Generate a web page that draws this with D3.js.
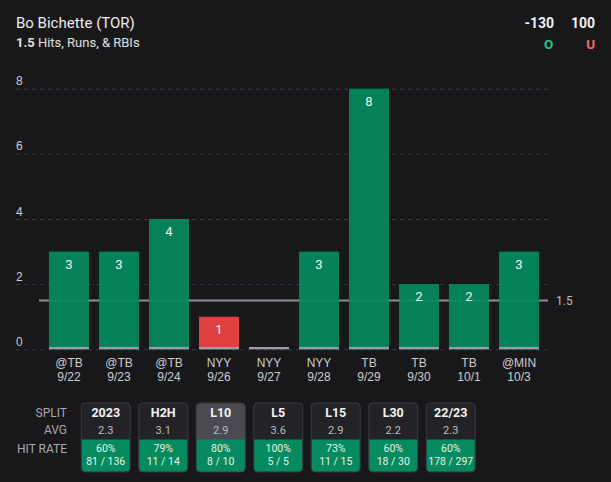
<!DOCTYPE html>
<html>
<head>
<meta charset="utf-8">
<script src="https://cdn.jsdelivr.net/npm/d3@7"></script>
<style>
  body { margin: 0; background: #18181b; }
  svg { display: block; font-family: Roboto, "Noto Sans", sans-serif; }
</style>
</head>
<body>
<svg id="chart"></svg>
<script>
var opponents = ["@TB", "@TB", "@TB", "NYY", "NYY", "NYY", "TB", "TB", "TB", "@MIN"];
var dates = ["9/22", "9/23", "9/24", "9/26", "9/27", "9/28", "9/29", "9/30", "10/1", "10/3"];
var values = [3, 3, 4, 1, 0, 3, 8, 2, 2, 3];
var line = 1.5;
var yTicks = [0, 2, 4, 6, 8];

var splits = ["2023", "H2H", "L10", "L5", "L15", "L30", "22/23"];
var avgs = ["2.3", "3.1", "2.9", "3.6", "2.9", "2.2", "2.3"];
var rates = ["60%", "79%", "80%", "100%", "73%", "60%", "60%"];
var counts = ["81 / 136", "11 / 14", "8 / 10", "5 / 5", "11 / 15", "18 / 30", "178 / 297"];

var width = 611, height = 482;
var green = "#058b5f", red = "#ef4444";

var svg = d3.select('#chart')
	.attr('width', width)
	.attr('height', height);

// header
svg.append('text').attr('x', 16).attr('y', 27.5)
	.attr('fill', '#ececec').style('font-size', '15px')
	.text('Bo Bichette (TOR)');
var sub = svg.append('text').attr('x', 16).attr('y', 46.5)
	.attr('fill', '#e0e0e0').style('font-size', '13px');
sub.append('tspan').style('font-weight', 'bold').text('1.5');
sub.append('tspan').text(' Hits, Runs, & RBIs');

svg.append('text').attr('x', 554).attr('y', 27.5).attr('text-anchor', 'end')
	.attr('fill', '#f0f0f0').style('font-size', '14px').style('font-weight', 'bold').text('-130');
svg.append('text').attr('x', 595).attr('y', 27.5).attr('text-anchor', 'end')
	.attr('fill', '#f0f0f0').style('font-size', '14px').style('font-weight', 'bold').text('100');
svg.append('text').attr('x', 548.7).attr('y', 49.3).attr('text-anchor', 'middle')
	.attr('fill', '#22c58b').style('font-size', '13.5px').style('font-weight', 'bold').text('O');
svg.append('text').attr('x', 590.7).attr('y', 49.3).attr('text-anchor', 'middle')
	.attr('fill', '#f26b6b').style('font-size', '13.5px').style('font-weight', 'bold').text('U');

// scales
var idx = d3.range(values.length);
var xScale = d3.scaleBand()
	.domain(idx)
	.range([44, 544])
	.paddingInner(0.2)
	.paddingOuter(0.1);

var yScale = d3.scaleLinear()
	.domain([0, 8])
	.range([349.3, 88.7]);

// grid
var grid = svg.append('g')
	.attr('transform', 'translate(548,0)')
	.call(d3.axisLeft(yScale).tickValues(yTicks).tickSize(532).tickFormat(d3.format('d')));
grid.select('.domain').remove();
grid.selectAll('line')
	.attr('stroke', '#3b3b40')
	.attr('stroke-dasharray', '4,4');
grid.selectAll('text')
	.attr('x', -532)
	.attr('dy', -4)
	.attr('text-anchor', 'start')
	.attr('fill', '#cfcfcf')
	.style('font-size', '12px');

// line 1.5 (under bars)
svg.append('line')
	.attr('x1', 39).attr('x2', 548)
	.attr('y1', yScale(line)).attr('y2', yScale(line))
	.attr('stroke', '#8e8e92').attr('stroke-width', 2);
svg.append('text')
	.attr('x', 556).attr('y', yScale(line) + 4.5)
	.attr('fill', '#bdbdbd').style('font-size', '12px')
	.text(line);

// bars
var bars = svg.append('g').attr('id', 'bars-container');
bars.selectAll('.bar')
	.data(idx)
	.enter().append('rect')
	.attr('class', 'bar')
	.attr('x', function(i){ return xScale(i); })
	.attr('y', function(i){ return yScale(values[i]); })
	.attr('width', xScale.bandwidth())
	.attr('height', function(i){ return yScale(0) - yScale(values[i]); })
	.attr('fill', function(i){ return values[i] > line ? green : red; })
	.attr('fill-opacity', 0.93);

bars.selectAll('.base')
	.data(idx)
	.enter().append('rect')
	.attr('class', 'base')
	.attr('x', function(i){ return xScale(i); })
	.attr('y', yScale(0) - 2.3)
	.attr('width', xScale.bandwidth())
	.attr('height', 2.3)
	.attr('fill', '#9c9ca4');

bars.selectAll('.val')
	.data(idx.filter(function(i){ return values[i] > 0; }))
	.enter().append('text')
	.attr('class', 'val')
	.attr('x', function(i){ return xScale(i) + xScale.bandwidth() / 2; })
	.attr('y', function(i){ return yScale(values[i]) + 17; })
	.attr('text-anchor', 'middle')
	.attr('fill', '#eef5f0')
	.style('font-size', '13px')
	.text(function(i){ return values[i]; });

// x axis
var xAxis = svg.append('g')
	.attr('transform', 'translate(0,' + 352 + ')')
	.call(d3.axisBottom(xScale).tickSize(0).tickFormat(''));
xAxis.select('.domain').remove();
xAxis.selectAll('.tick text').each(function(i){
	var t = d3.select(this).attr('y', 0).attr('dy', null)
		.attr('fill', '#cdcdcd').style('font-size', '12px');
	t.append('tspan').attr('x', 0).attr('y', 15.3).text(opponents[i]);
	t.append('tspan').attr('x', 0).attr('y', 28.7).text(dates[i]);
});

// split table
var tScale = d3.scaleBand()
	.domain(splits)
	.range([77, 479.5])
	.paddingInner(0.13)
	.paddingOuter(0.065);

var rowLabels = [["SPLIT", 416.7], ["AVG", 434.3], ["HIT RATE", 452.7]];
svg.selectAll('.rowlab')
	.data(rowLabels)
	.enter().append('text')
	.attr('class', 'rowlab')
	.attr('x', 67).attr('y', function(d){ return d[1]; })
	.attr('text-anchor', 'end')
	.attr('fill', '#a8a8ad')
	.style('font-size', '12px')
	.text(function(d){ return d[0]; });

var cells = svg.selectAll('.cell')
	.data(splits)
	.enter().append('g')
	.attr('class', 'cell')
	.attr('transform', function(d){ return 'translate(' + tScale(d) + ',0)'; });

var bw = tScale.bandwidth();
cells.append('rect')
	.attr('x', 0.5).attr('y', 403)
	.attr('width', bw - 1).attr('height', 69)
	.attr('rx', 4)
	.attr('fill', function(d){ return d === 'L10' ? '#4a4a52' : '#232327'; })
	.attr('stroke', '#3a3a40');
cells.append('path')
	.attr('d', 'M1,439.5 H' + (bw - 1) + ' V467.5 a4,4 0 0 1 -4,4 H5 a4,4 0 0 1 -4,-4 Z')
	.attr('fill', green);
cells.append('text')
	.attr('x', bw / 2).attr('y', 416.7)
	.attr('text-anchor', 'middle')
	.attr('fill', '#f2f2f2')
	.style('font-size', '12.5px').style('font-weight', 'bold')
	.text(function(d){ return d; });
cells.append('text')
	.attr('x', bw / 2).attr('y', 433.5)
	.attr('text-anchor', 'middle')
	.attr('fill', '#bdbdc2')
	.style('font-size', '11px')
	.text(function(d, i){ return avgs[i]; });
cells.append('text')
	.attr('x', bw / 2).attr('y', 452.3)
	.attr('text-anchor', 'middle')
	.attr('fill', '#e6f2ec')
	.style('font-size', '10.5px')
	.text(function(d, i){ return rates[i]; });
cells.append('text')
	.attr('x', bw / 2).attr('y', 465.3)
	.attr('text-anchor', 'middle')
	.attr('fill', '#e6f2ec')
	.style('font-size', '10.5px')
	.text(function(d, i){ return counts[i]; });
</script>
</body>
</html>
